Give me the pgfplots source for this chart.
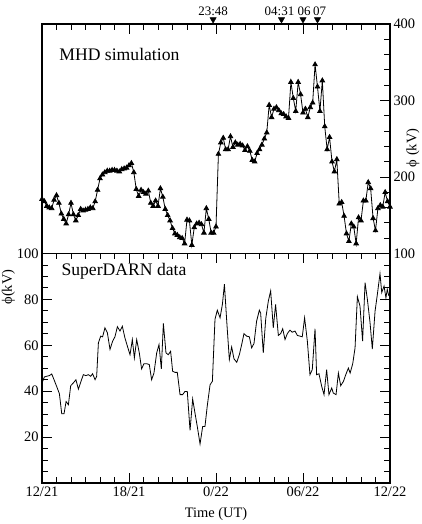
\documentclass[border=0pt]{standalone}
\usepackage{fontspec}
\setmainfont{Liberation Serif}
\usepackage{pgfplots}
\usepackage{pgfplotstable}
\pgfplotsset{compat=1.18}

\pgfplotstableread{
v
171
168
162
160
159
170
176
166
152
145
139
151
166
151
143
150
158
156
157
158
160
159
168
183
198
203
206
208
208
209
209
208
207
210
211
212
215
218
206
184
175
183
180
178
182
166
162
169
162
185
174
158
150
143
133
126
124
121
120
113
144
143
111
134
139
140
138
127
159
145
127
127
135
230
245
251
236
236
253
239
245
242
243
241
235
240
234
222
220
231
236
242
250
258
294
278
289
291
287
283
282
279
277
324
303
286
324
308
284
289
278
291
297
347
318
286
326
266
236
252
220
207
223
165
167
149
126
116
139
135
113
147
143
169
169
193
185
146
130
159
163
161
180
168
161
}\mhd

\pgfplotstableread{
h v
0.05 44.3
0.16 46.2
0.32 46.5
0.51 46.8
0.67 47.5
0.83 45.0
1.01 42.1
1.20 38.9
1.36 30.2
1.52 30.2
1.66 35.5
1.82 34.1
1.98 42.4
2.16 43.6
2.34 45.0
2.51 40.9
2.69 44.3
2.85 47.2
3.03 46.8
3.20 47.2
3.36 46.5
3.49 47.6
3.66 45.0
3.77 46.5
3.89 61.1
4.05 64.0
4.18 63.7
4.34 67.6
4.51 65.4
4.69 58.2
4.87 61.8
5.03 63.7
5.20 68.1
5.38 66.2
5.54 68.3
5.72 63.2
5.89 59.6
6.07 55.9
6.23 62.5
6.37 54.5
6.53 62.5
6.71 56.7
6.87 49.7
7.03 52.0
7.22 52.0
7.40 51.6
7.56 45.0
7.72 47.9
7.91 56.7
8.07 60.3
8.23 49.7
8.37 69.5
8.55 56.7
8.71 55.9
8.87 57.4
9.01 48.7
9.17 48.2
9.33 48.2
9.52 38.5
9.70 38.5
9.86 39.9
10.02 39.9
10.21 22.9
10.39 36.6
10.55 30.5
10.71 24.6
10.90 17.0
11.08 24.6
11.24 24.6
11.40 33.7
11.59 42.8
11.75 44.3
11.93 71.3
12.09 75.3
12.28 72.0
12.44 77.8
12.58 86.6
12.74 70.5
12.92 53.8
13.08 59.3
13.24 54.1
13.43 52.6
13.61 55.9
13.77 60.3
13.93 65.1
14.11 64.0
14.30 63.7
14.46 58.9
14.62 60.8
14.80 70.5
14.99 75.3
15.08 74.0
15.26 56.7
15.43 71.6
15.61 79.3
15.77 83.7
15.95 67.6
16.11 77.8
16.30 64.3
16.46 65.1
16.60 67.2
16.76 62.5
16.92 65.1
17.10 66.6
17.26 65.7
17.45 66.2
17.61 64.3
17.79 64.0
17.95 63.7
18.11 72.0
18.30 61.8
18.48 47.2
18.64 49.4
18.83 67.2
18.94 47.2
19.10 47.6
19.29 42.1
19.45 38.5
19.63 49.4
19.79 38.5
19.98 41.4
20.09 39.2
20.28 38.5
20.44 47.9
20.60 42.4
20.79 44.3
20.95 47.2
21.13 50.1
21.25 47.9
21.43 52.0
21.59 58.9
21.75 81.2
21.93 77.1
22.11 61.8
22.28 87.3
22.44 80.0
22.62 70.1
22.78 58.4
22.97 74.9
23.12 81.8
23.31 91.2
23.43 83.0
23.59 85.8
23.72 80.7
23.81 84.4
23.92 81.5
}\sdarn

\pgfplotstableread{
h v
11.8 400
16.517 400
18 400
19 400
}\marks

\newcommand{\tickfont}{\fontsize{14.5}{16}\selectfont}

\begin{document}
\begin{tikzpicture}
\useasboundingbox (0bp,0bp) rectangle (422bp,524bp);
\pgfplotsset{
  common/.style={
    scale only axis, width=348bp, height=229.5bp,
    xmin=0, xmax=24,
    xtick={0,6,12,18,24},
    minor x tick num=5,
    axis line style={line width=1.2bp},
    every tick/.style={black, line width=0.9bp},
    major tick length=10bp, minor tick length=6bp,
    tick align=inside,
    /pgf/number format/assume math mode=true,
    ticklabel style={font=\tickfont},
    clip=false,
  }
}
% top panel
\begin{axis}[common, at={(42bp,270.5bp)}, anchor=south west,
  ymin=100, ymax=400, ytick={100,200,300,400}, minor y tick num=4,
  xtick pos=right, xticklabels={},
  ytick pos=right, yticklabel pos=right,
]
\addplot[black, line width=0.8bp, mark=triangle*, mark size=2.6bp, mark options={solid}]
  table[x expr=\coordindex/6, y=v] {\mhd};
\addplot[only marks, black, mark=triangle*, mark size=3.6bp, mark options={yshift=4.5bp, rotate=180}]
  table[x=h, y=v] {\marks};
\node[anchor=base, font=\fontsize{13}{14}\selectfont, yshift=8.5bp] at (axis cs:11.8,400) {23:48};
\node[anchor=base, font=\fontsize{13}{14}\selectfont, yshift=8.5bp, xshift=-2bp] at (axis cs:16.517,400) {04:31};
\node[anchor=base, font=\fontsize{13}{14}\selectfont, yshift=8.5bp, xshift=1bp] at (axis cs:18,400) {06};
\node[anchor=base, font=\fontsize{13}{14}\selectfont, yshift=8.5bp, xshift=2bp] at (axis cs:19,400) {07};
\node[anchor=base west, font=\fontsize{17.7}{20}\selectfont] at (rel axis cs:0.04,0.839) {MHD simulation};
\node[font=\tickfont, anchor=center, rotate=90] at (rel axis cs:1.066,0.46) {ϕ (kV)};
\end{axis}
% bottom panel
\begin{axis}[common, at={(42bp,41bp)}, anchor=south west,
  ymin=0, ymax=100, ytick={0,20,40,60,80,100}, yticklabels={,20,40,60,80,100},
  minor y tick num=3,
  xtick pos=both, xticklabel pos=left,
  xticklabels={12/21,18/21,0/22,06/22,12/22},
  ytick pos=both, yticklabel pos=left,
  xlabel={Time (UT)}, xlabel style={font=\tickfont, yshift=-4bp},
]
\addplot[black, line width=0.8bp] table[x=h, y=v] {\sdarn};
\node[anchor=base west, font=\fontsize{17.7}{20}\selectfont] at (rel axis cs:0.046,0.906) {SuperDARN data};
\node[font=\tickfont, anchor=center, rotate=90] at (rel axis cs:-0.0963,0.854) {ϕ(kV)};
\end{axis}
\end{tikzpicture}
\end{document}
